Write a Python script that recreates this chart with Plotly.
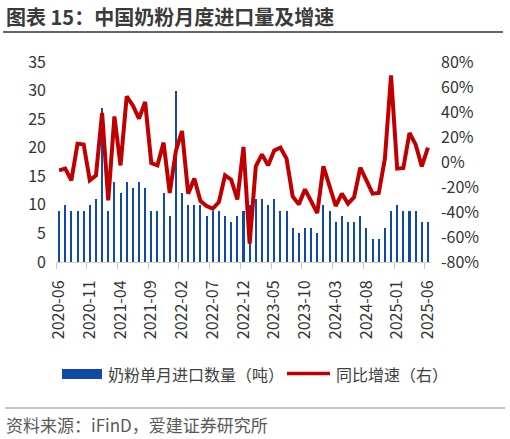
import plotly.graph_objects as go

# monthly data 2020-06 .. 2025-06
months = ['2020-06', '2020-07', '2020-08', '2020-09', '2020-10', '2020-11', '2020-12',
          '2021-01', '2021-02', '2021-03', '2021-04', '2021-05', '2021-06', '2021-07',
          '2021-08', '2021-09', '2021-10', '2021-11', '2021-12', '2022-01', '2022-02',
          '2022-03', '2022-04', '2022-05', '2022-06', '2022-07', '2022-08', '2022-09',
          '2022-10', '2022-11', '2022-12', '2023-01', '2023-02', '2023-03', '2023-04',
          '2023-05', '2023-06', '2023-07', '2023-08', '2023-09', '2023-10', '2023-11',
          '2023-12', '2024-01', '2024-02', '2024-03', '2024-04', '2024-05', '2024-06',
          '2024-07', '2024-08', '2024-09', '2024-10', '2024-11', '2024-12', '2025-01',
          '2025-02', '2025-03', '2025-04', '2025-05', '2025-06']

volume = [9, 10, 9, 9, 9, 10, 11, 27, 9, 14, 12, 14, 13, 14, 13, 9, 9, 12, 8, 30,
          12, 10, 10, 10, 8, 9, 9, 8, 7, 8, 9, 10, 11, 11, 10, 11, 9, 9, 6, 5,
          6, 6, 5, 10, 9, 7, 8, 7, 7, 8, 6, 4, 4, 6, 9, 10, 9, 9, 9, 7, 7]

yoy = [-6.7, -5.3, -14.7, 14.7, 14, -14.7, -10.7, 39.2, -30.7, 36.5, -2.7, 52.5,
       45.3, 34.7, 48, -0.8, -2.7, 15.5, -24.8, 8.8, 24.8, -25.3, -13.3, -31.2,
       -35.2, -37.3, -32, -10.7, -14.1, -30, 12, -65.3, -3.5, 6.1, -2.7, 9.3,
       11.5, 2.7, -27.5, -33.9, -21.9, -31.2, -40.8, -3.5, -20, -35.2, -25.3,
       -33.3, -28, -4.5, -14.7, -25.3, -24.8, 2.7, 69.3, -5.3, -4.8, 23.2, 14.1,
       -3.5, 11.5]

left_ticks = [0, 5, 10, 15, 20, 25, 30, 35]
right_ticks = [-80, -60, -40, -20, 0, 20, 40, 60, 80]

BLUE = '#0F4AA8'
RED = '#C00000'
W, H = 510, 439
ML, MR, MT, MB = 56, 79, 62, 177
PW, PH = W - ML - MR, H - MT - MB
FONT = 'Noto Sans CJK SC'

def px(x):
    return (x - ML) / PW

def py(y):
    return (H - MB - y) / PH

idx = list(range(len(months)))
label_pos = idx[::5]

fig = go.Figure()
fig.add_trace(go.Bar(x=idx, y=volume, width=0.33, marker=dict(color=BLUE, line=dict(width=0)),
                     name='奶粉单月进口数量（吨）', showlegend=False))
fig.add_trace(go.Scatter(x=idx, y=yoy, mode='lines', yaxis='y2', line=dict(color=RED, width=4),
                         name='同比增速（右）', showlegend=False))

fig.update_layout(
    width=W, height=H, autosize=False,
    margin=dict(l=ML, r=MR, t=MT, b=MB),
    paper_bgcolor='white', plot_bgcolor='white',
    font=dict(family=FONT, size=16, color='#333333'),
    xaxis=dict(range=[-0.5, len(months) - 0.5], tickmode='array', tickvals=label_pos,
               ticktext=[months[i] for i in label_pos], tickangle=-90, ticks='',
               showgrid=False, zeroline=False, showline=True, linecolor='#D0D0D0',
               ticklabelstandoff=11, tickfont=dict(size=16),
               minor=dict(ticks='outside', tickmode='array',
                          tickvals=[i - 0.5 for i in label_pos] + [len(months) - 1.5],
                          ticklen=6, tickcolor='#C8C8C8', showgrid=False)),
    yaxis=dict(range=[0, 35], tickmode='array', tickvals=left_ticks,
               ticktext=[str(v) for v in left_ticks], showgrid=False, zeroline=False,
               showline=False, ticks='', ticklabelstandoff=9),
    yaxis2=dict(range=[-80, 80], overlaying='y', side='right', tickmode='array',
                tickvals=right_ticks, ticktext=[f'{v}%' for v in right_ticks],
                showgrid=False, zeroline=False, showline=False, ticks='',
                ticklabelstandoff=9),
    bargap=0,
)

# title and rules
fig.add_annotation(text='<b>图表 15：中国奶粉月度进口量及增速</b>', x=px(4), y=py(16),
                   xref='paper', yref='paper', xanchor='left', yanchor='middle',
                   showarrow=False, font=dict(size=20, color='#3A3A3A'))
fig.add_shape(type='line', xref='paper', yref='paper', x0=px(3), x1=px(503),
              y0=py(32), y1=py(32), line=dict(color='#333333', width=1.5))
fig.add_shape(type='line', xref='paper', yref='paper', x0=px(5), x1=px(505),
              y0=py(408), y1=py(408), line=dict(color='#8C8C8C', width=1))
fig.add_annotation(text='资料来源：iFinD，爱建证券研究所', x=px(4), y=py(424),
                   xref='paper', yref='paper', xanchor='left', yanchor='middle',
                   showarrow=False, font=dict(size=17, color='#595959'))

# legend
fig.add_shape(type='rect', xref='paper', yref='paper', x0=px(62), x1=px(102),
              y0=py(379), y1=py(369), fillcolor=BLUE, line=dict(width=0))
fig.add_annotation(text='奶粉单月进口数量（吨）', x=px(106), y=py(374),
                   xref='paper', yref='paper', xanchor='left', yanchor='middle',
                   showarrow=False, font=dict(size=16, color='#404040'))
fig.add_shape(type='line', xref='paper', yref='paper', x0=px(287), x1=px(330),
              y0=py(373.5), y1=py(373.5), line=dict(color=RED, width=3.5))
fig.add_annotation(text='同比增速（右）', x=px(334), y=py(374),
                   xref='paper', yref='paper', xanchor='left', yanchor='middle',
                   showarrow=False, font=dict(size=16, color='#404040'))

# drop the browser's default body margin so the figure fills the window
fig.write_html('out.html', config={'displayModeBar': False},
               post_script="document.body.style.margin = '0';")
